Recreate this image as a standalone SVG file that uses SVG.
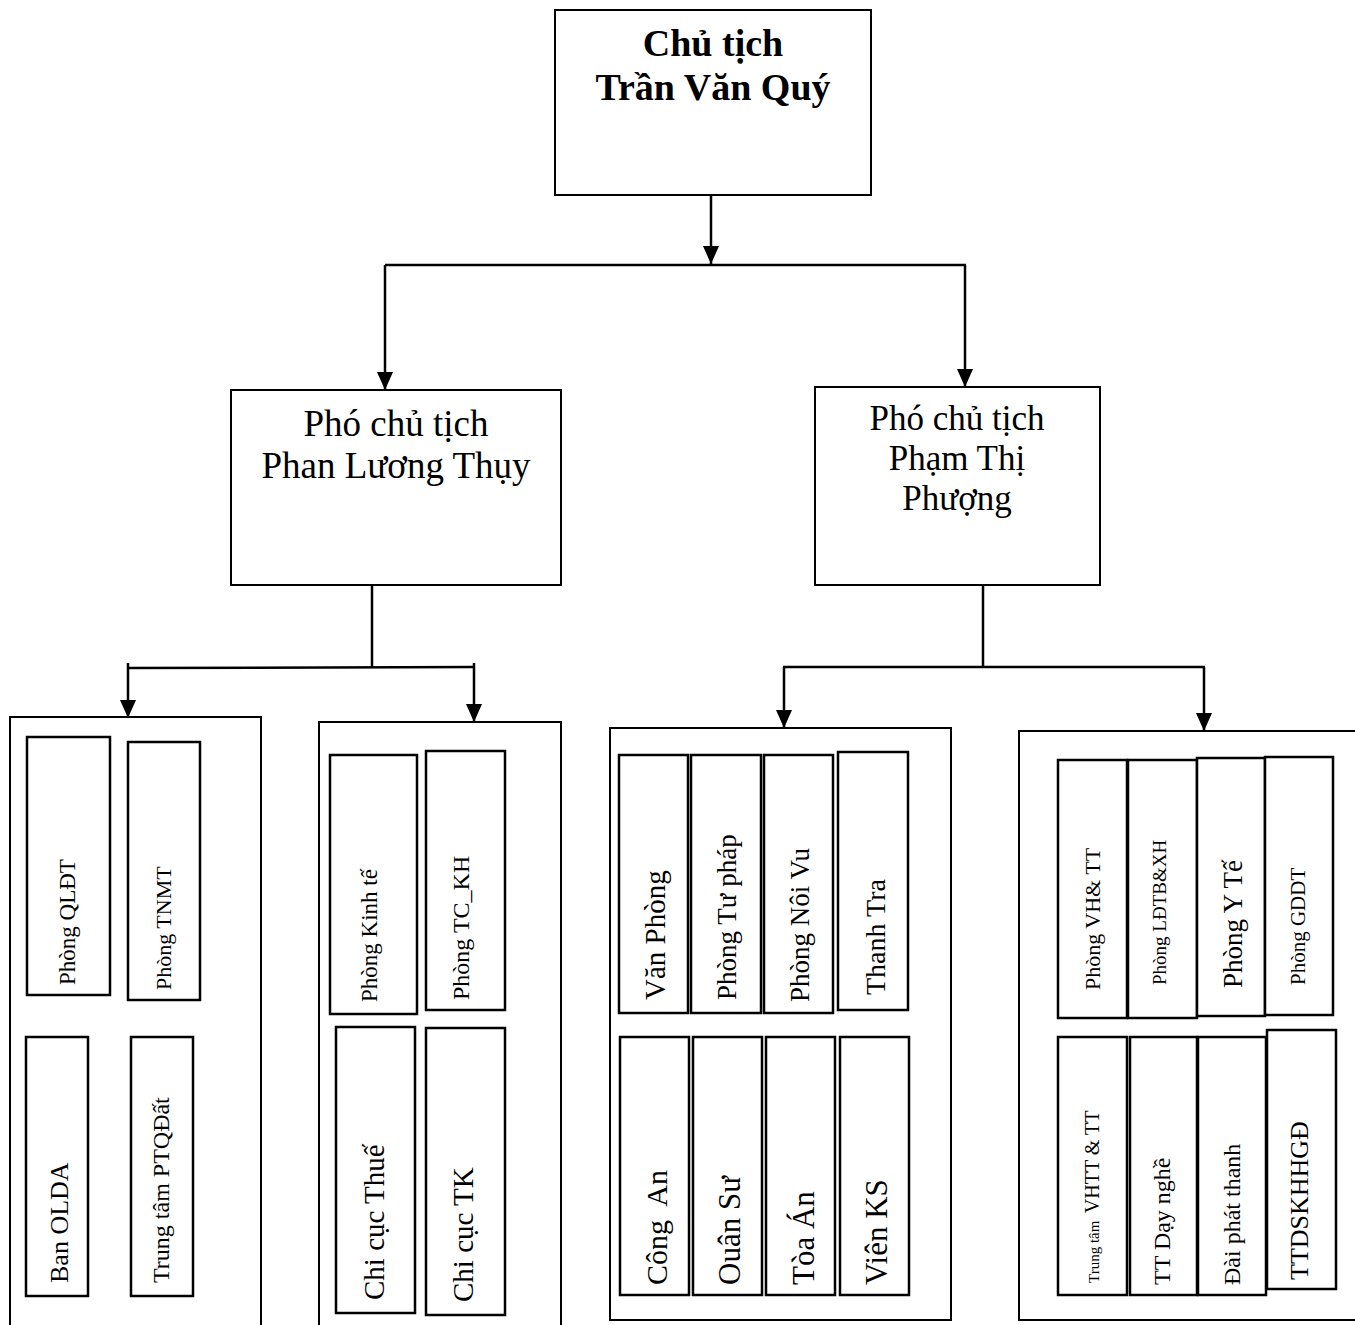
<svg xmlns="http://www.w3.org/2000/svg" width="1355" height="1325" viewBox="0 0 1355 1325">
<style>
.bx{fill:#fff;stroke:#000;stroke-width:2}
.in{fill:#fff;stroke:#000;stroke-width:2.5}
.ln{fill:none;stroke:#000;stroke-width:2.5}
.ar{fill:none;stroke:#000;stroke-width:2.5;marker-end:url(#ah)}
text{font-family:"Liberation Serif","Times New Roman",serif;fill:#000}
.t{font-size:35px;text-anchor:middle}
.tl{font-size:37px;text-anchor:middle}
.tb{font-size:38px;font-weight:bold;text-anchor:middle}
.v{white-space:pre}
</style>
<defs>
<marker id="ah" markerUnits="userSpaceOnUse" markerWidth="18" markerHeight="16" refX="18" refY="8" orient="auto" viewBox="0 0 18 16">
<path d="M0,0 L18,8 L0,16 Z" fill="#000"/>
</marker>
</defs>
<rect width="1355" height="1325" fill="#fff"/>

<g id="connectors">
<path class="ar" d="M711,195 V264"/>
<line class="ln" x1="385" y1="265" x2="966" y2="265"/>
<path class="ar" d="M385,265 V390"/>
<path class="ar" d="M965,265 V387"/>
<line class="ln" x1="372" y1="585" x2="372" y2="668"/>
<line class="ln" x1="128" y1="668" x2="474" y2="667"/>
<path class="ar" d="M128,663 V718"/>
<path class="ar" d="M474,663 V722"/>
<line class="ln" x1="983" y1="585" x2="983" y2="667"/>
<line class="ln" x1="783" y1="667" x2="1205" y2="667"/>
<path class="ar" d="M784,667 V728"/>
<path class="ar" d="M1204,667 V731"/>
</g>

<g id="chu-tich">
<rect class="bx" x="555" y="10" width="316" height="185"/>
<text class="tb" x="713" y="56">Chủ tịch</text>
<text class="tb" x="713" y="100">Trần Văn Quý</text>
</g>

<g id="pct-thuy">
<rect class="bx" x="231" y="390" width="330" height="195"/>
<text class="tl" x="396" y="436">Phó chủ tịch</text>
<text class="tl" x="396" y="478">Phan Lương Thụy</text>
</g>

<g id="pct-phuong">
<rect class="bx" x="815" y="387" width="285" height="198"/>
<text class="t" x="957" y="430">Phó chủ tịch</text>
<text class="t" x="957" y="470">Phạm Thị</text>
<text class="t" x="957" y="510">Phượng</text>
</g>

<g id="nhom-1">
<rect class="bx" x="10" y="717" width="251" height="620"/>
<g id="phong-qldt"><rect class="in" x="27" y="737" width="83" height="258"/>
<text font-size="23" transform="translate(75,985) rotate(-90)">Phòng QLĐT</text></g>
<g id="phong-tnmt"><rect class="in" x="128" y="742" width="72" height="258"/>
<text font-size="22" transform="translate(171,990) rotate(-90)">Phòng TNMT</text></g>
<g id="ban-qlda"><rect class="in" x="26" y="1037" width="62" height="259"/>
<text font-size="26" transform="translate(68,1283) rotate(-90)">Ban OLDA</text></g>
<g id="tt-ptqd"><rect class="in" x="131" y="1037" width="62" height="259"/>
<text font-size="24" transform="translate(169,1283) rotate(-90)">Trung tâm PTQĐất</text></g>
</g>

<g id="nhom-2">
<rect class="bx" x="319" y="722" width="242" height="615"/>
<g id="phong-kt"><rect class="in" x="330" y="755" width="87" height="259"/>
<text font-size="23" transform="translate(377,1002) rotate(-90)">Phòng Kinh tế</text></g>
<g id="phong-tckh"><rect class="in" x="426" y="751" width="79" height="259"/>
<text font-size="24" transform="translate(469,1000) rotate(-90)">Phòng TC_KH</text></g>
<g id="chi-cuc-thue"><rect class="in" x="336" y="1027" width="79" height="286"/>
<text font-size="29" transform="translate(384,1300) rotate(-90)">Chi cục Thuế</text></g>
<g id="chi-cuc-tk"><rect class="in" x="426" y="1028" width="79" height="287"/>
<text font-size="29" transform="translate(473,1302) rotate(-90)">Chi cục TK</text></g>
</g>

<g id="nhom-3">
<rect class="bx" x="610" y="728" width="341" height="592"/>
<g id="van-phong"><rect class="in" x="619" y="755" width="69" height="258"/>
<text font-size="29" transform="translate(665,1000) rotate(-90)">Văn Phòng</text></g>
<g id="tu-phap"><rect class="in" x="691" y="755" width="70" height="258"/>
<text font-size="27" transform="translate(736,1000) rotate(-90)">Phòng Tư pháp</text></g>
<g id="noi-vu"><rect class="in" x="764" y="755" width="69" height="258"/>
<text font-size="27" transform="translate(809,1002) rotate(-90)">Phòng Nôi Vu</text></g>
<g id="thanh-tra"><rect class="in" x="838" y="752" width="70" height="258"/>
<text font-size="28" transform="translate(885,995) rotate(-90)">Thanh Tra</text></g>
<g id="cong-an"><rect class="in" x="620" y="1037" width="69" height="258"/>
<text class="v" font-size="30" transform="translate(667,1285) rotate(-90)">Công  An</text></g>
<g id="quan-su"><rect class="in" x="693" y="1037" width="69" height="258"/>
<text font-size="31" transform="translate(740,1285) rotate(-90)">Ouân Sư</text></g>
<g id="toa-an"><rect class="in" x="766" y="1037" width="69" height="258"/>
<text font-size="31" transform="translate(814,1285) rotate(-90)">Tòa Án</text></g>
<g id="vien-ks"><rect class="in" x="840" y="1037" width="69" height="258"/>
<text font-size="31" transform="translate(887,1285) rotate(-90)">Viên KS</text></g>
</g>

<g id="nhom-4">
<rect class="bx" x="1019" y="731" width="345" height="589"/>
<g id="vh-tt"><rect class="in" x="1058" y="760" width="69" height="258"/>
<text font-size="22" transform="translate(1100,990) rotate(-90)">Phòng VH&amp; TT</text></g>
<g id="ldtbxh"><rect class="in" x="1128" y="760" width="69" height="258"/>
<text font-size="19" transform="translate(1166,985) rotate(-90)">Phòng LĐTB&amp;XH</text></g>
<g id="y-te"><rect class="in" x="1197" y="758" width="68" height="258"/>
<text font-size="27" transform="translate(1242,988) rotate(-90)">Phòng Y Tế</text></g>
<g id="gddt"><rect class="in" x="1265" y="757" width="68" height="258"/>
<text font-size="21" transform="translate(1305,985) rotate(-90)">Phòng GDDT</text></g>
<g id="tt-vhtt"><rect class="in" x="1058" y="1037" width="69" height="258"/>
<text class="v" transform="translate(1099,1283) rotate(-90)"><tspan font-size="15">Trung tâm  </tspan><tspan font-size="20">VHTT &amp; TT</tspan></text></g>
<g id="day-nghe"><rect class="in" x="1130" y="1037" width="67" height="258"/>
<text font-size="24" transform="translate(1170,1285) rotate(-90)">TT Dạy nghề</text></g>
<g id="dai-phat-thanh"><rect class="in" x="1198" y="1037" width="68" height="258"/>
<text font-size="24" transform="translate(1240,1285) rotate(-90)">Đài phát thanh</text></g>
<g id="ttdskhhgd"><rect class="in" x="1267" y="1030" width="69" height="259"/>
<text font-size="26" transform="translate(1308,1280) rotate(-90)">TTDSKHHGĐ</text></g>
</g>
</svg>
